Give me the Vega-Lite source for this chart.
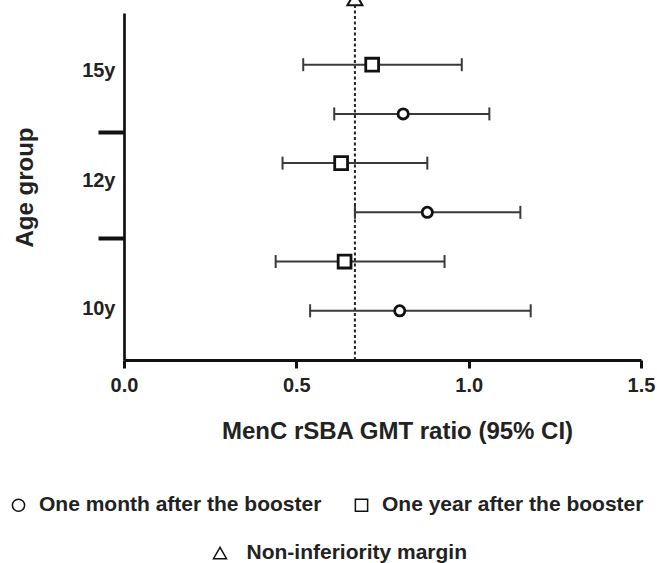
{
  "$schema": "https://vega.github.io/schema/vega-lite/v6.json",
  "width": 517,
  "height": 347,
  "autosize": {"type": "none"},
  "padding": {"left": 124, "top": 13, "right": 16, "bottom": 203},
  "background": "white",
  "config": {
    "view": {"stroke": null},
    "font": "Liberation Sans",
    "axis": {
      "labelFont": "Liberation Sans",
      "titleFont": "Liberation Sans",
      "labelFontWeight": "bold",
      "titleFontWeight": "bold",
      "domainColor": "#111111",
      "tickColor": "#111111",
      "labelColor": "#222222",
      "titleColor": "#222222",
      "grid": false
    },
    "legend": {
      "labelFont": "Liberation Sans",
      "labelFontWeight": "bold",
      "labelFontSize": 21,
      "labelColor": "#222222",
      "labelLimit": 600
    }
  },
  "datasets": {
    "ci": [
      {"age": "10y", "series": "One month after the booster", "row": 1, "ratio": 0.80, "low": 0.54, "high": 1.18},
      {"age": "10y", "series": "One year after the booster", "row": 2, "ratio": 0.64, "low": 0.44, "high": 0.93},
      {"age": "12y", "series": "One month after the booster", "row": 3, "ratio": 0.88, "low": 0.67, "high": 1.15},
      {"age": "12y", "series": "One year after the booster", "row": 4, "ratio": 0.63, "low": 0.46, "high": 0.88},
      {"age": "15y", "series": "One month after the booster", "row": 5, "ratio": 0.81, "low": 0.61, "high": 1.06},
      {"age": "15y", "series": "One year after the booster", "row": 6, "ratio": 0.72, "low": 0.52, "high": 0.98}
    ],
    "margin": [
      {"marker": "Non-inferiority margin", "value": 0.67, "bottom": 0, "top": 7.34}
    ]
  },
  "layer": [
    {
      "data": {"name": "margin"},
      "mark": {"type": "rule", "strokeDash": [3, 2.5], "strokeWidth": 2, "color": "#222222"},
      "encoding": {
        "x": {"field": "value", "type": "quantitative", "title": "MenC rSBA GMT ratio (95% CI)"},
        "y": {"field": "bottom", "type": "quantitative", "title": "Age group"},
        "y2": {"field": "top"}
      }
    },
    {
      "data": {"name": "ci"},
      "mark": {"type": "rule", "strokeWidth": 2, "color": "#3a3a3a"},
      "encoding": {
        "x": {"field": "low", "type": "quantitative", "title": "MenC rSBA GMT ratio (95% CI)"},
        "x2": {"field": "high"},
        "y": {"field": "row", "type": "quantitative", "title": "Age group"}
      }
    },
    {
      "data": {"name": "ci"},
      "mark": {"type": "tick", "orient": "vertical", "size": 13, "thickness": 2, "color": "#3a3a3a", "opacity": 1},
      "encoding": {
        "x": {"field": "low", "type": "quantitative", "title": "MenC rSBA GMT ratio (95% CI)"},
        "y": {"field": "row", "type": "quantitative", "title": "Age group"}
      }
    },
    {
      "data": {"name": "ci"},
      "mark": {"type": "tick", "orient": "vertical", "size": 13, "thickness": 2, "color": "#3a3a3a", "opacity": 1},
      "encoding": {
        "x": {"field": "high", "type": "quantitative", "title": "MenC rSBA GMT ratio (95% CI)"},
        "y": {"field": "row", "type": "quantitative", "title": "Age group"}
      }
    },
    {
      "data": {"name": "ci"},
      "mark": {"type": "point", "filled": true, "fill": "white", "stroke": "#111111", "strokeWidth": 2.8, "opacity": 1},
      "encoding": {
        "x": {
          "field": "ratio",
          "type": "quantitative",
          "title": "MenC rSBA GMT ratio (95% CI)",
          "scale": {"domain": [0, 1.5], "nice": false, "zero": false},
          "axis": {
            "values": [0, 0.5, 1, 1.5],
            "format": ".1f",
            "tickSize": 8,
            "tickWidth": 3,
            "domainWidth": 3,
            "labelPadding": 7,
            "labelFontSize": 20,
            "labelFlush": false,
            "titleFontSize": 24,
            "titlePadding": 24,
            "titleX": 273
          }
        },
        "y": {
          "field": "row",
          "type": "quantitative",
          "title": "Age group",
          "scale": {"domain": [0, 7.05], "nice": false, "zero": false},
          "axis": {
            "values": [1.05, 2.48, 3.65, 4.64, 5.88],
            "labelExpr": "datum.value == 1.05 ? '10y' : datum.value == 3.65 ? '12y' : datum.value == 5.88 ? '15y' : ''",
            "tickSize": 26,
            "tickWidth": 4,
            "tickOpacity": {"condition": {"test": "datum.value == 2.48 || datum.value == 4.64", "value": 1}, "value": 0},
            "labelPadding": -17,
            "labelFontSize": 20,
            "domainWidth": 2.7,
            "titleFontSize": 24,
            "titleX": -87,
            "titleY": 174
          }
        },
        "shape": {
          "field": "series",
          "type": "nominal",
          "scale": {"domain": ["One month after the booster", "One year after the booster"], "range": ["circle", "square"]},
          "legend": {
            "orient": "none",
            "legendX": -116,
            "legendY": 481.5,
            "direction": "horizontal",
            "title": null,
            "labelOffset": 10,
            "columnPadding": 29,
            "padding": 0,
            "symbolSize": 150,
            "encode": {
              "symbols": {
                "update": {
                  "fill": {"value": "white"},
                  "stroke": {"value": "#111111"},
                  "strokeWidth": {"value": 2.8},
                  "opacity": {"value": 1}
                }
              }
            }
          }
        },
        "size": {
          "field": "series",
          "type": "ordinal",
          "scale": {"domain": ["One month after the booster", "One year after the booster"], "range": [105, 165]},
          "legend": null
        }
      }
    },
    {
      "data": {"name": "margin"},
      "mark": {"type": "point", "filled": true, "fill": "white", "stroke": "#111111", "strokeWidth": 2, "size": 225, "opacity": 1},
      "encoding": {
        "x": {"field": "value", "type": "quantitative", "title": "MenC rSBA GMT ratio (95% CI)"},
        "y": {"field": "top", "type": "quantitative", "title": "Age group"},
        "shape": {
          "field": "marker",
          "type": "nominal",
          "scale": {"domain": ["Non-inferiority margin"], "range": ["triangle-up"]},
          "legend": {
            "orient": "none",
            "legendX": 85.5,
            "legendY": 529.5,
            "title": null,
            "labelOffset": 16,
            "padding": 0,
            "symbolSize": 169,
            "encode": {
              "symbols": {
                "update": {
                  "fill": {"value": "white"},
                  "stroke": {"value": "#111111"},
                  "strokeWidth": {"value": 2},
                  "opacity": {"value": 1}
                }
              }
            }
          }
        }
      }
    }
  ],
  "resolve": {"scale": {"shape": "independent"}, "legend": {"shape": "independent"}}
}
